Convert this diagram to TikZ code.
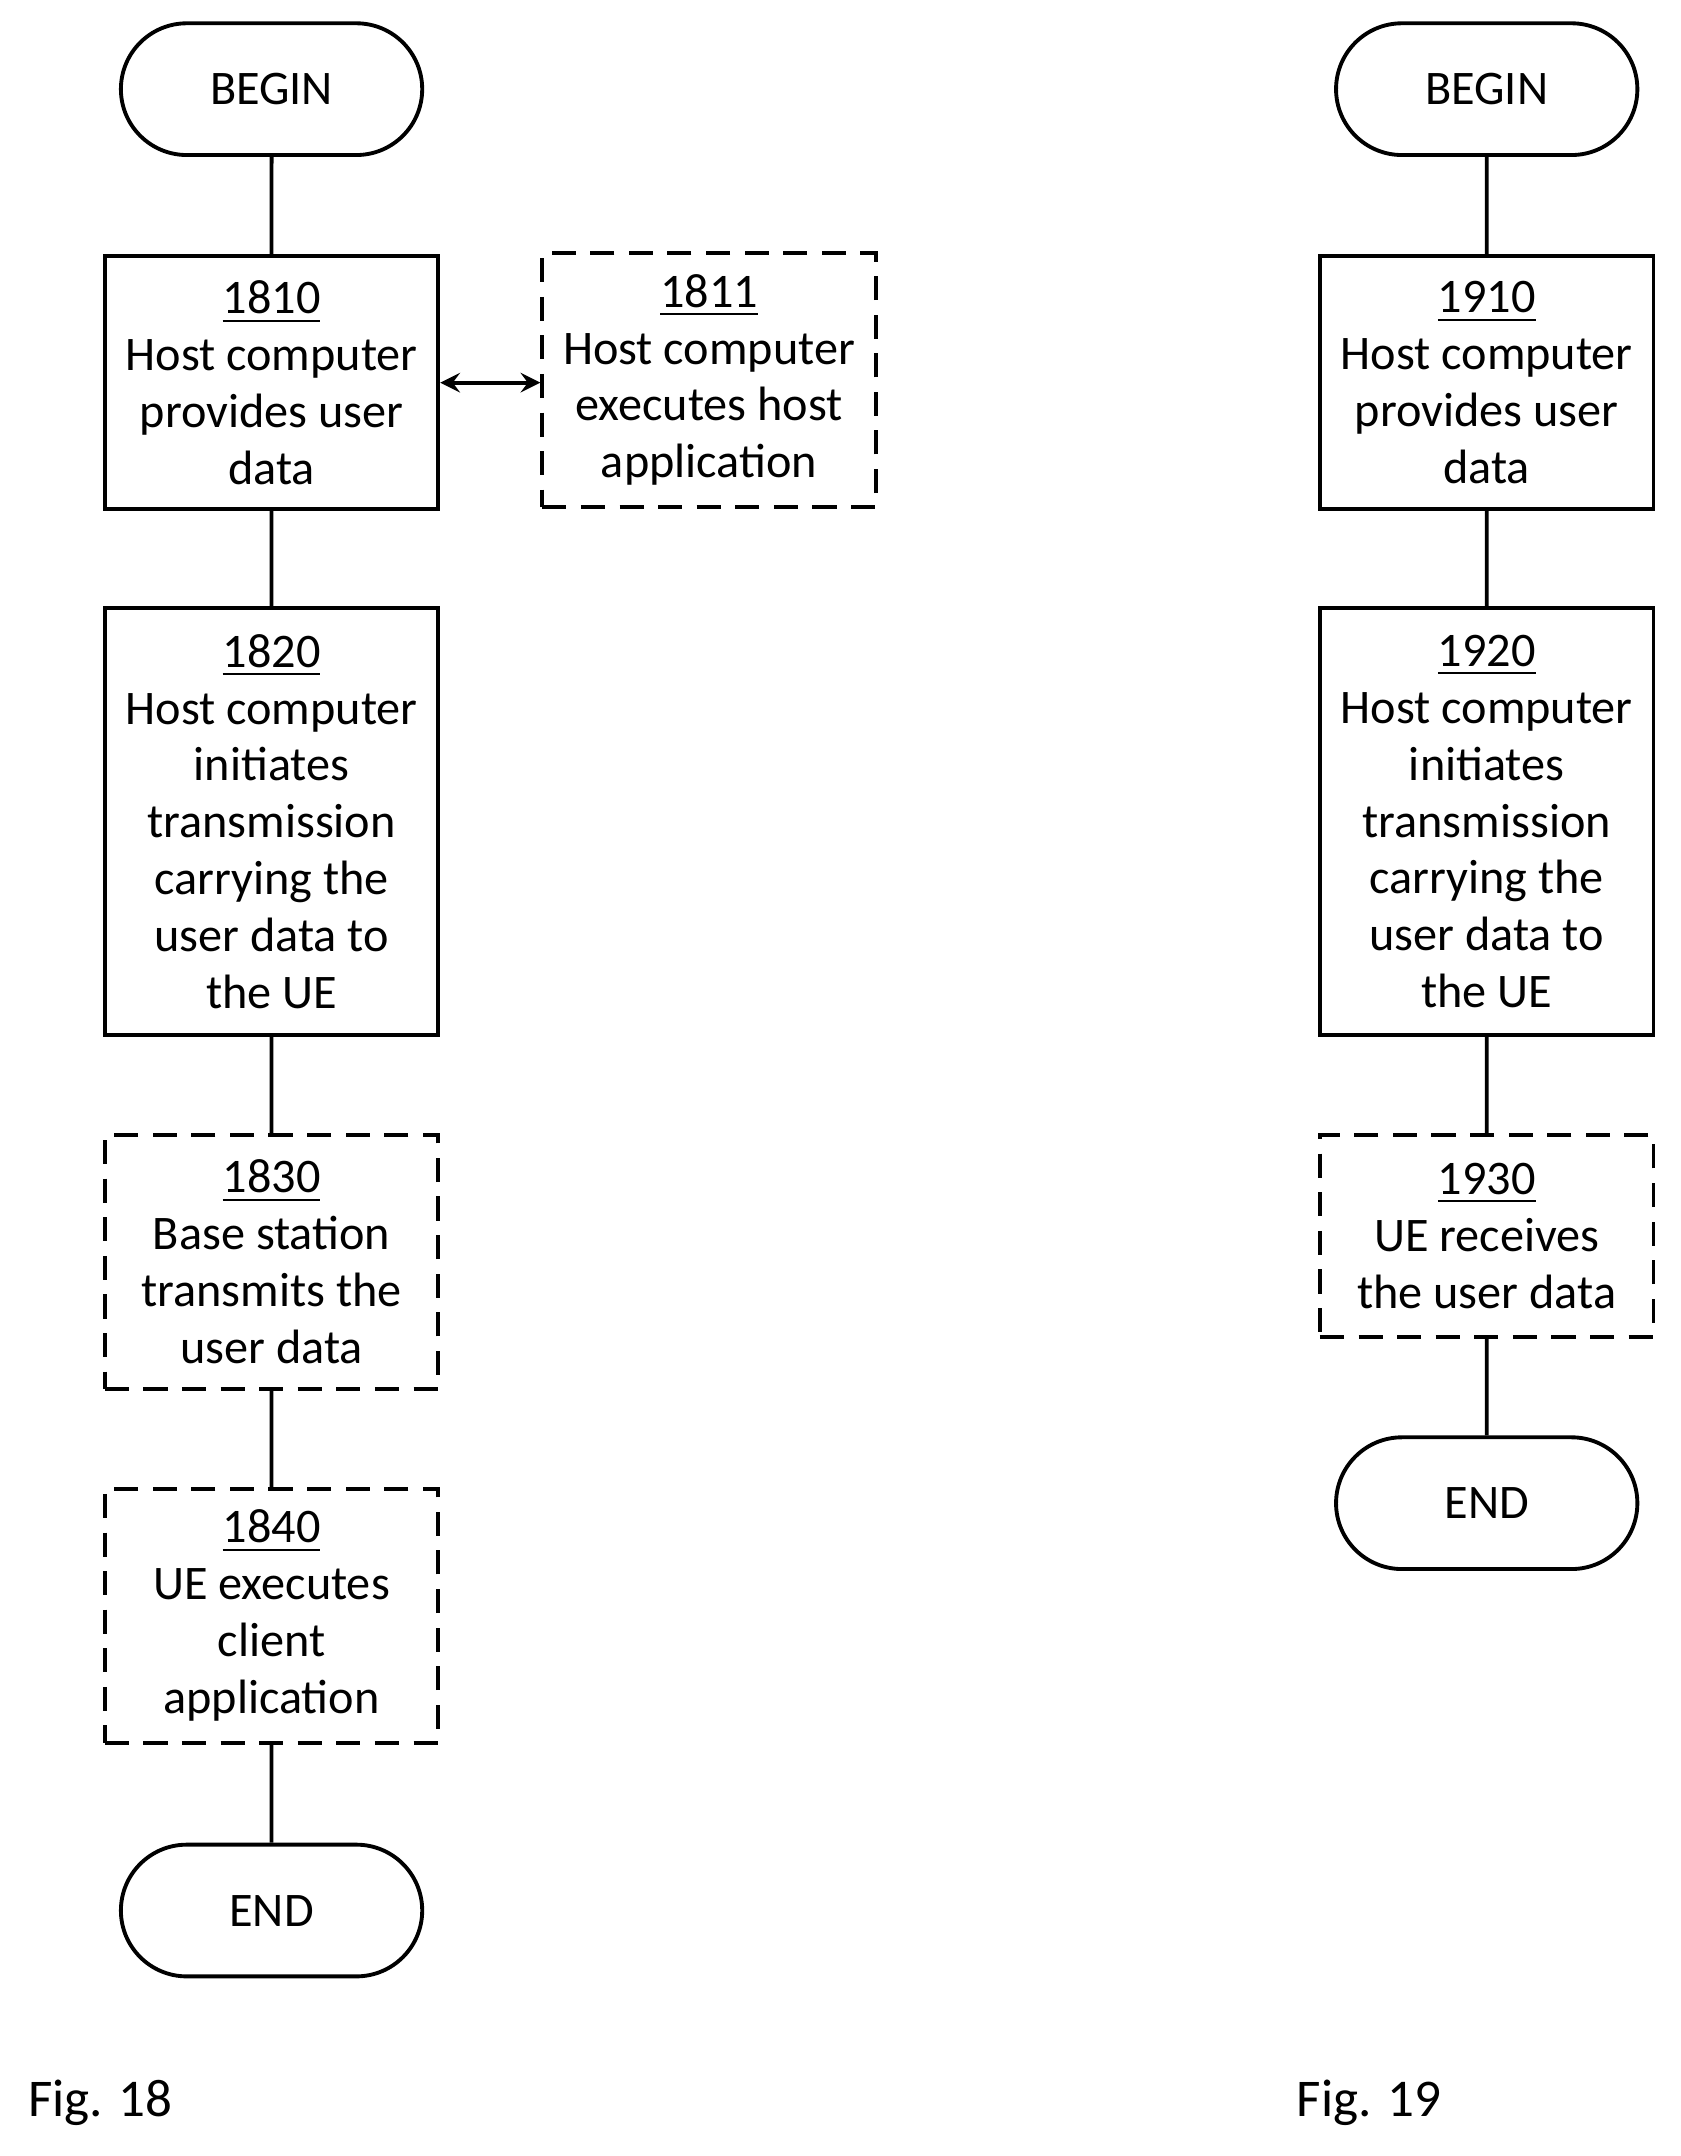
\documentclass[tikz,border=0pt]{standalone}
\usepackage{fontspec}
\setmainfont{Carlito}
\usetikzlibrary{positioning,shapes.misc}
\tikzset{%
  font=\fontsize{10}{11.8}\selectfont,>=stealth,
  box/.style={draw,thick,rectangle,minimum width=2.43cm,align=center,inner sep=1pt},
  opt/.style={box,dashed,dash pattern=on 5pt off 3pt},
  term/.style={draw,thick,rounded rectangle,minimum width=2.43cm,minimum height=0.96cm},
  line/.style={draw,thick}
}
\begin{document}
\begin{tikzpicture}[x=0.01cm,y=-0.01cm]
  \useasboundingbox (0,0) rectangle (1225,1572);
  % Fig. 18
  \node[term] (b18) at (198,65) {BEGIN};
  \node[box,minimum height=1.84cm] (s1810) at (198,279) {\underline{1810}\\Host computer\\provides user\\data};
  \node[opt,minimum height=1.85cm] (s1811) at (517,277) {\underline{1811}\\Host computer\\executes host\\application};
  \node[box,minimum height=3.11cm] (s1820) at (198,599) {\underline{1820}\\Host computer\\initiates\\transmission\\carrying the\\user data to\\the UE};
  \node[opt,minimum height=1.85cm] (s1830) at (198,920) {\underline{1830}\\Base station\\transmits the\\user data};
  \node[opt,minimum height=1.85cm] (s1840) at (198,1178) {\underline{1840}\\UE executes\\client\\application};
  \node[term] (e18) at (198,1393) {END};
  \draw[line] (b18) -- (s1810) -- (s1820) -- (s1830) -- (s1840) -- (e18);
  \draw[thick,<->] (s1810.east) -- (s1811.west |- s1810.east);
  % Fig. 19
  \node[term] (b19) at (1084,65) {BEGIN};
  \node[box,minimum height=1.84cm] (s1910) at (1084,279) {\underline{1910}\\Host computer\\provides user\\data};
  \node[box,minimum height=3.11cm] (s1920) at (1084,599) {\underline{1920}\\Host computer\\initiates\\transmission\\carrying the\\user data to\\the UE};
  \node[opt,minimum height=1.47cm] (s1930) at (1084,901) {\underline{1930}\\UE receives\\the user data};
  \node[term] (e19) at (1084,1096) {END};
  \draw[line] (b19) -- (s1910) -- (s1920) -- (s1930) -- (e19);
  % captions
  \node[anchor=west,font=\fontsize{11}{13}\selectfont] (f18) at (8,1533) {Fig. 18};
  \node[anchor=west,font=\fontsize{11}{13}\selectfont] (f19) at (933,1533) {Fig. 19};
\end{tikzpicture}
\end{document}
